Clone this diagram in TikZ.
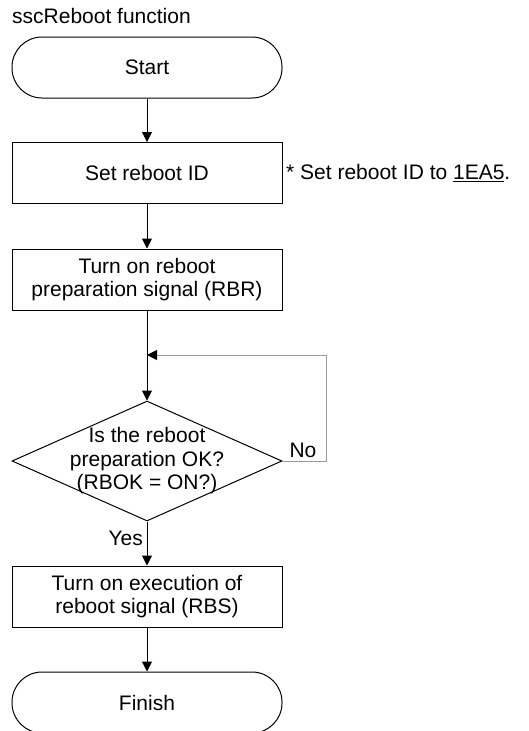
\documentclass[tikz,border=0pt]{standalone}
\usepackage{fontspec}
\setmainfont{Liberation Sans}
\usetikzlibrary{arrows.meta,shapes.geometric}
\begin{document}
\begin{tikzpicture}[x=1pt,y=-1pt,
  every node/.style={font=\fontsize{21}{23.5}\selectfont},
  line/.style={line width=1pt,draw=black},
  arr/.style={line, -{Triangle[width=10pt,length=10pt]}},
  procbox/.style={draw, line width=1pt, minimum width=270pt, minimum height=61pt, inner sep=0pt, align=center},
  term/.style={draw, line width=1pt, rounded corners=30pt, minimum width=270pt, minimum height=61pt, inner sep=0pt},
  decision/.style={draw, line width=1pt, diamond, minimum width=270pt, minimum height=120pt, inner sep=0pt}]
\useasboundingbox (0,0) rectangle (529,731);
\node[anchor=west, inner sep=0pt] (title) at (12,16) {sscReboot function};
\node[term] (start) at (147,67.5) {Start};
\node[procbox] (setid) at (147,173) {Set reboot ID};
\node[anchor=west, inner sep=0pt] (note) at (286,173) {* Set reboot ID to \underline{1EA5}.};
\node[procbox] (rbr) at (147,279.5) {Turn on reboot\\preparation signal (RBR)};
\coordinate (merge) at (147,355);
\node[decision, label={[align=center, inner sep=0pt]center:{Is the reboot\\preparation OK?\\(RBOK = ON?)}}] (dec) at (147,461) {};
\coordinate (loop) at (326,461);
\coordinate (looptop) at (326,355);
\node[procbox] (rbs) at (147,596.5) {Turn on execution of\\reboot signal (RBS)};
\node[term] (finish) at (147,702.5) {Finish};
\node[anchor=south, inner sep=0pt] (no) at (303,458) {No};
\node[anchor=east, inner sep=0pt] (yes) at (143,538) {Yes};
\draw[arr] (start) -- (setid);
\draw[arr] (setid) -- (rbr);
\draw[line] (rbr) -- (merge);
\draw[arr] (merge) -- (dec.north);
\draw[line width=1pt, draw=black!40, -{Triangle[width=10pt,length=10pt,color=black,fill=black]}] (dec.east) -- (loop) -- (looptop) -- (merge);
\draw[arr] (dec.south) -- (rbs);
\draw[arr] (rbs) -- (finish);
\end{tikzpicture}
\end{document}
